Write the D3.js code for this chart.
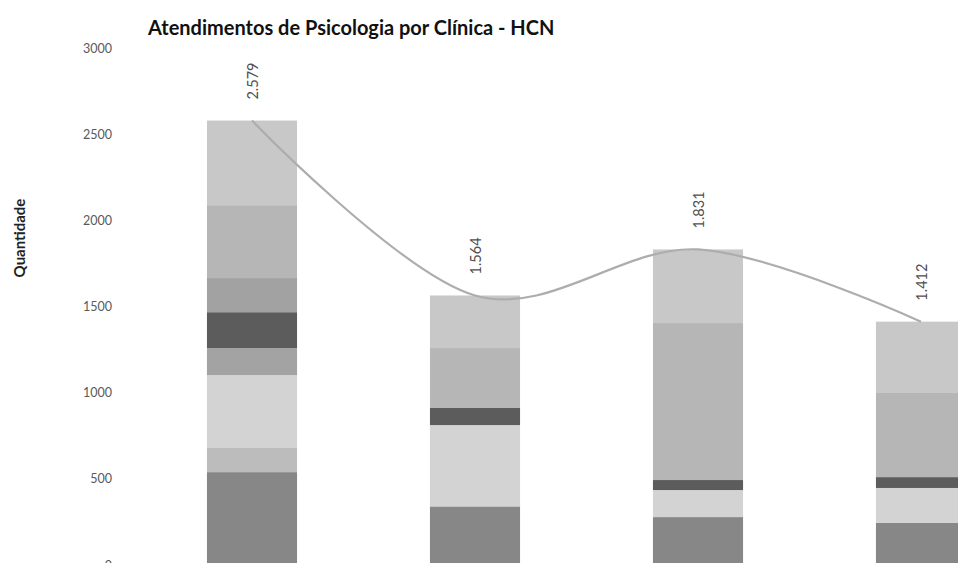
<!DOCTYPE html>
<html>
<head>
<meta charset="utf-8">
<script src="https://cdn.jsdelivr.net/npm/d3@7"></script>
<style>
  html, body { margin: 0; padding: 0; background: #fff; }
  svg { display: block; font-family: Lato, "Open Sans", sans-serif; }
</style>
</head>
<body>
<svg id="chart" width="958" height="563"></svg>
<script>
// Periods shown on the x axis (labels fall below the visible area)
const categories = ["Período 1", "Período 2", "Período 3", "Período 4"];

// Attendances per clinic, stacked bottom to top
const clinicA = [539, 340, 278, 244];
const clinicB = [140, 0, 0, 0];
const clinicC = [423, 472, 157, 203];
const clinicD = [157, 0, 0, 0];
const clinicE = [208, 99, 58, 63];
const clinicF = [198, 0, 0, 0];
const clinicG = [423, 348, 911, 488];
const clinicH = [491, 305, 427, 414];

// Totals per period (labelled above each bar and joined by the trend line)
const totals = [2579, 1564, 1831, 1412];

const yTicks = [0, 500, 1000, 1500, 2000, 2500, 3000];

const seriesList = [
  { key: "A", values: clinicA, color: "#878787" },
  { key: "B", values: clinicB, color: "#bcbcbc" },
  { key: "C", values: clinicC, color: "#d3d3d3" },
  { key: "D", values: clinicD, color: "#a3a3a3" },
  { key: "E", values: clinicE, color: "#5c5c5c" },
  { key: "F", values: clinicF, color: "#a2a2a2" },
  { key: "G", values: clinicG, color: "#b6b6b6" },
  { key: "H", values: clinicH, color: "#c8c8c8" }
];

const rows = categories.map((c, i) => {
  const r = { cat: c };
  seriesList.forEach(s => { r[s.key] = s.values[i]; });
  return r;
});

const svg = d3.select("#chart");

const x = d3.scaleBand()
  .domain(categories)
  .range([140.5, 1032.5])
  .paddingInner(0.596)
  .paddingOuter(0.298);

const y = d3.scaleLinear().domain([0, 3000]).range([565, 48]);

const stack = d3.stack().keys(seriesList.map(s => s.key));
const stacked = stack(rows);
const colorOf = Object.fromEntries(seriesList.map(s => [s.key, s.color]));

// Stacked bars
svg.append("g")
  .selectAll("g")
  .data(stacked)
  .join("g")
  .attr("fill", d => colorOf[d.key])
  .selectAll("rect")
  .data(d => d)
  .join("rect")
  .attr("x", d => x(d.data.cat))
  .attr("width", x.bandwidth())
  .attr("y", d => y(d[1]))
  .attr("height", d => Math.max(0, y(d[0]) - y(d[1])));

// Smoothed total line
const line = d3.line()
  .x((d, i) => x(categories[i]) + x.bandwidth() / 2)
  .y(d => y(d))
  .curve(d3.curveCatmullRom.alpha(0));

svg.append("path")
  .datum(totals)
  .attr("fill", "none")
  .attr("stroke", "#adadad")
  .attr("stroke-width", 2.2)
  .attr("d", line);

// Value labels (rotated)
const fmt = d3.formatLocale({ decimal: ",", thousands: ".", grouping: [3], currency: ["R$", ""] }).format(",d");
svg.append("g")
  .selectAll("text")
  .data(totals)
  .join("text")
  .attr("transform", (d, i) => `translate(${x(categories[i]) + x.bandwidth() / 2 + 6},${y(d) - 21}) rotate(-90)`)
  .attr("text-anchor", "start")
  .attr("font-size", 14.5)
  .attr("fill", "#505050")
  .text(d => fmt(d));

// Y axis (labels only)
const yAxis = d3.axisLeft(y).tickValues(yTicks).tickFormat(d3.format("d")).tickSize(0).tickPadding(0);
const gy = svg.append("g").attr("transform", "translate(112,0)").call(yAxis);
gy.select(".domain").remove();
gy.selectAll("text")
  .attr("font-family", "Lato, 'Open Sans', sans-serif")
  .attr("font-size", 12.5)
  .attr("fill", "#595959");

// Y axis title
svg.append("text")
  .attr("transform", "translate(25,238) rotate(-90)")
  .attr("text-anchor", "middle")
  .attr("font-size", 15)
  .attr("font-weight", "bold")
  .attr("fill", "#222")
  .text("Quantidade");

// Chart title
svg.append("text")
  .attr("x", 148)
  .attr("y", 35)
  .attr("font-size", 20)
  .attr("font-weight", "bold")
  .attr("fill", "#111")
  .text("Atendimentos de Psicologia por Clínica - HCN");
</script>
</body>
</html>
